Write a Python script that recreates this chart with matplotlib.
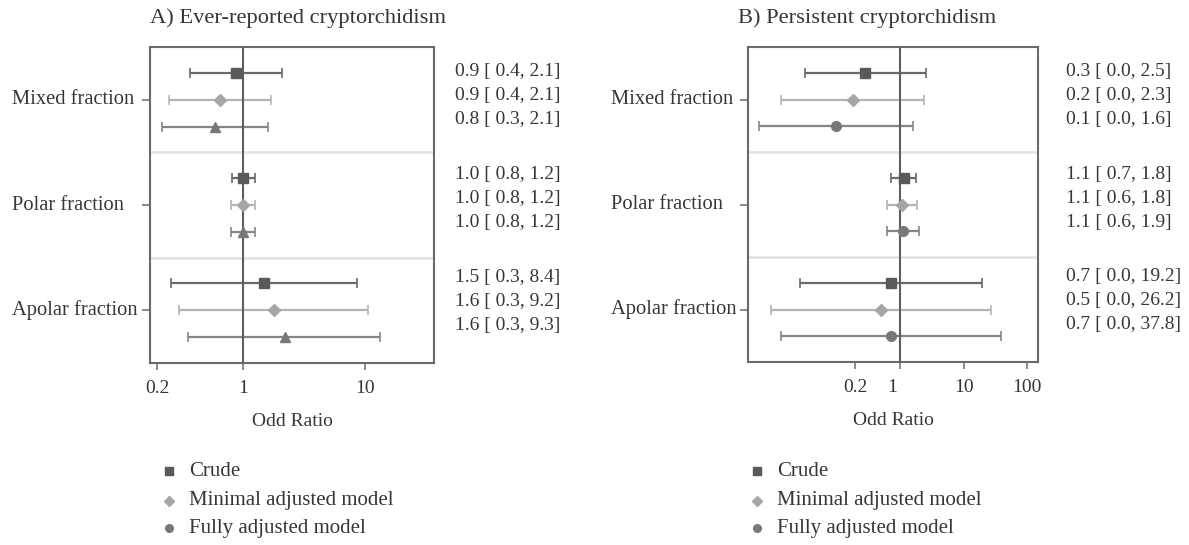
import matplotlib
matplotlib.use("Agg")
import matplotlib.pyplot as plt
import matplotlib.transforms as mtransforms
from matplotlib.lines import Line2D

plt.rcParams['font.family'] = ['Liberation Serif', 'DejaVu Serif']

# ---------------- data ----------------
groups = ["Mixed fraction", "Polar fraction", "Apolar fraction"]
models = ["Crude", "Minimal adjusted model", "Fully adjusted model"]

# Panel A: Ever-reported cryptorchidism (order: Mixed, Polar, Apolar; each Crude, Minimal, Fully)
a_or = [0.88, 0.65, 0.59, 1.01, 1.00, 1.00, 1.49, 1.78, 2.19]
a_lo = [0.37, 0.25, 0.22, 0.82, 0.80, 0.80, 0.26, 0.30, 0.36]
a_hi = [2.08, 1.71, 1.61, 1.25, 1.25, 1.25, 8.45, 10.4, 13.2]
a_labels = ["0.9 [ 0.4, 2.1]", "0.9 [ 0.4, 2.1]", "0.8 [ 0.3, 2.1]",
            "1.0 [ 0.8, 1.2]", "1.0 [ 0.8, 1.2]", "1.0 [ 0.8, 1.2]",
            "1.5 [ 0.3, 8.4]", "1.6 [ 0.3, 9.2]", "1.6 [ 0.3, 9.3]"]

# Panel B: Persistent cryptorchidism
b_or = [0.284, 0.182, 0.099, 1.155, 1.09, 1.10, 0.73, 0.505, 0.72]
b_lo = [0.0328, 0.0138, 0.0061, 0.72, 0.63, 0.63, 0.0274, 0.0095, 0.0137]
b_hi = [2.52, 2.37, 1.58, 1.76, 1.84, 1.96, 19.3, 27.0, 38.9]
b_labels = ["0.3 [ 0.0, 2.5]", "0.2 [ 0.0, 2.3]", "0.1 [ 0.0, 1.6]",
            "1.1 [ 0.7, 1.8]", "1.1 [ 0.6, 1.8]", "1.1 [ 0.6, 1.9]",
            "0.7 [ 0.0, 19.2]", "0.5 [ 0.0, 26.2]", "0.7 [ 0.0, 37.8]"]

a_ticks = [0.2, 1, 10]
a_ticklabels = ["0.2", "1", "10"]
b_ticks = [0.2, 1, 10, 100]
b_ticklabels = ["0.2", "1", "10", "100"]

# ---------------- style ----------------
TXT = "#363636"
SPINE = "#6a6a6a"
marker_colors = ["#5a5a5a", "#a6a6a6", "#787878"]
line_colors = ["#6a6a6a", "#b4b4b4", "#858585"]
GROUP_H = 3.9
FS = 14

W, H = 1189, 545
fig = plt.figure(figsize=(W / 100, H / 100), dpi=100)


def px_rect(left, top, right, bottom):
    return [left / W, 1 - bottom / H, (right - left) / W, (bottom - top) / H]


def draw_panel(rect, ors, los, his, labels, third_marker, xlim, ticks, ticklabels,
               ylabel_x_px, text_x_px, title, title_x_px, legend_x_px):
    ax = fig.add_axes(rect)
    ax.set_xscale("log")
    ax.set_xlim(*xlim)
    ax.set_ylim(3 * GROUP_H, 0)
    shapes = ["s", "D", third_marker]
    sizes = [7, 6.5, 7.5 if third_marker == "^" else 7]
    for i in range(len(ors)):
        g, r = divmod(i, 3)
        y = g * GROUP_H + 0.95 + r
        ax.errorbar([ors[i]], [y], xerr=[[ors[i] - los[i]], [his[i] - ors[i]]],
                    fmt="none", ecolor=line_colors[r], elinewidth=1.6,
                    capsize=3.5, capthick=1.2, zorder=2)
        ax.plot([ors[i]], [y], marker=shapes[r], color=marker_colors[r],
                markersize=sizes[r], linestyle="none", zorder=4)
    ax.axvline(1, color="#5e5e5e", linewidth=1.5, zorder=3)
    for k in (1, 2):
        ax.axhline(k * GROUP_H, color="#e2e2e2", linewidth=1.8, zorder=1)
    for s in ax.spines.values():
        s.set_color(SPINE)
        s.set_linewidth(1.5)
    ax.set_xticks(ticks)
    ax.set_xticklabels(ticklabels)
    ax.minorticks_off()
    ax.tick_params(axis="x", direction="out", length=5, width=1.2, color="#777777",
                   labelsize=FS, labelcolor=TXT, pad=7)
    ax.set_yticks([g * GROUP_H + 1.95 for g in range(3)])
    ax.set_yticklabels([])
    ax.tick_params(axis="y", direction="out", length=6, width=1.2, color="#777777")
    ax.set_xlabel("Odd Ratio", fontsize=FS, color=TXT, labelpad=12)

    bt = mtransforms.blended_transform_factory(fig.transFigure, ax.transData)
    for g, name in enumerate(groups):
        ax.text(ylabel_x_px / W, g * GROUP_H + 1.95, name, transform=bt,
                ha="left", va="center", fontsize=14.8, color=TXT, clip_on=False)
    for i, lab in enumerate(labels):
        g, r = divmod(i, 3)
        y = g * GROUP_H + 0.9 + r * 0.89 - 0.08 * g
        ax.text(text_x_px / W, y, lab, transform=bt, ha="left", va="center",
                fontsize=FS, color=TXT, clip_on=False)
    fig.text(title_x_px / W, 1 - 18 / H, title, ha="left", va="center",
             fontsize=16.2, color=TXT)

    # legend
    leg_shapes = ["s", "D", "o"]
    leg_y = [471, 500.5, 528]
    for r, name in enumerate(models):
        fig.add_artist(Line2D([legend_x_px / W], [1 - leg_y[r] / H],
                              marker=leg_shapes[r], color=marker_colors[r],
                              markersize=5.5, linestyle="none",
                              transform=fig.transFigure))
        fig.text((legend_x_px + 20) / W, 1 - leg_y[r] / H, name, ha="left",
                 va="center", fontsize=15, color=TXT)
    return ax


axA = draw_panel(px_rect(150, 47, 434, 363), a_or, a_lo, a_hi, a_labels, "^",
                 (0.175, 36.2), a_ticks, a_ticklabels, 12, 455,
                 "A) Ever-reported cryptorchidism", 150, 169)
axB = draw_panel(px_rect(748, 47, 1038, 362), b_or, b_lo, b_hi, b_labels, "o",
                 (0.00412, 147), b_ticks, b_ticklabels, 611, 1066,
                 "B) Persistent cryptorchidism", 738, 757)

# shift the "1" label of panel B slightly left as in the original
for lab in axB.get_xticklabels():
    if lab.get_text() == "1":
        lab.set_transform(lab.get_transform() +
                          mtransforms.ScaledTranslation(-8 / 100, 0, fig.dpi_scale_trans))

fig.savefig("out.png", dpi=100)
